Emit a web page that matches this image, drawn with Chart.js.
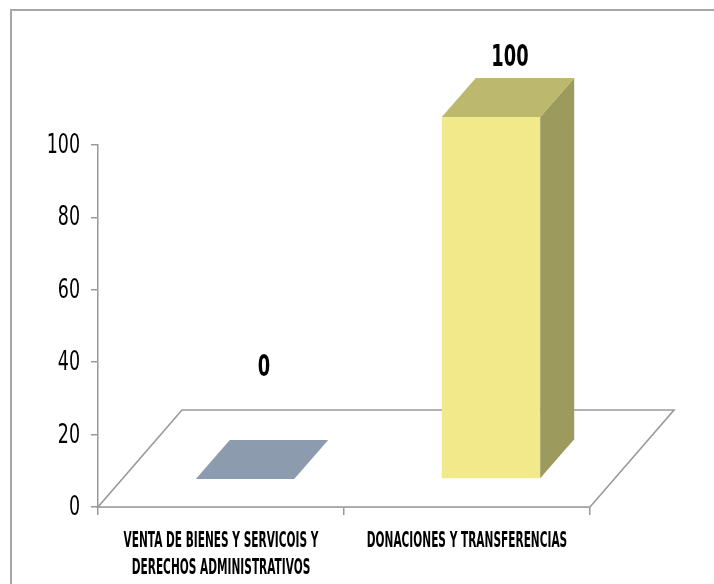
<!DOCTYPE html>
<html>
<head>
<meta charset="utf-8">
<script src="https://cdn.jsdelivr.net/npm/chart.js@4/dist/chart.umd.min.js"></script>
<style>
  html, body { margin: 0; padding: 0; background: #fff; }
  #wrap { width: 714px; height: 584px; position: relative; }
</style>
</head>
<body>
<div id="wrap"><canvas id="c" width="714" height="584"></canvas></div>
<script>
const categories = [
  ["VENTA DE BIENES Y SERVICOIS Y", "DERECHOS ADMINISTRATIVOS"],
  "DONACIONES Y TRANSFERENCIAS"
];
const values = [0, 100];
const yTicks = [0, 20, 40, 60, 80, 100];

const frontColors = ['#8C9BAD', '#F2E98B'];
const topColors   = ['#8C9BAD', '#BCB86E'];
const sideColors  = ['#6F7C8C', '#9C9A5C'];

const FONT = '"DejaVu Sans Condensed", "DejaVu Sans", sans-serif';
const FLOOR_DX = 84, FLOOR_DY = -97;   // floor depth
const BAR_OX = 24, BAR_OY = -28;       // bar front offset into depth
const BAR_DX = 34, BAR_DY = -39;       // bar depth

function squeezeText(ctx, text, x, y, align, font, sx) {
  ctx.save();
  ctx.translate(x, y);
  ctx.scale(sx, 1);
  ctx.font = font;
  ctx.textAlign = align;
  ctx.textBaseline = 'middle';
  ctx.fillStyle = '#000';
  ctx.fillText(text, 0, 0);
  ctx.restore();
}

const frame = {
  id: 'frame',
  beforeDraw(chart) {
    const ctx = chart.ctx;
    ctx.save();
    ctx.fillStyle = '#fff';
    ctx.fillRect(0, 0, chart.width, chart.height);
    ctx.strokeStyle = '#A6A6A6';
    ctx.lineWidth = 2;
    ctx.strokeRect(11, 10, 800, 700);
    ctx.restore();
  }
};

const axisText = {
  id: 'axisText',
  afterDraw(chart) {
    const ctx = chart.ctx, a = chart.chartArea;
    const ys = chart.scales.y, xs = chart.scales.x;
    yTicks.forEach(v => {
      squeezeText(ctx, String(v), a.left - 18, ys.getPixelForValue(v) + 1, 'right',
        '27px ' + FONT, 0.72);
    });
    categories.forEach((c, i) => {
      const lines = Array.isArray(c) ? c : [c];
      const x = xs.getPixelForTick(i);
      lines.forEach((ln, k) => {
        squeezeText(ctx, ln, x, a.bottom + 35 + k * 27, 'center',
          'bold 21px ' + FONT, 0.56);
      });
    });
  }
};

const bars3d = {
  id: 'bars3d',
  beforeDatasetsDraw(chart) {
    const ctx = chart.ctx, a = chart.chartArea;
    ctx.save();
    ctx.beginPath();
    ctx.moveTo(a.left, a.bottom);
    ctx.lineTo(a.right, a.bottom);
    ctx.lineTo(a.right + FLOOR_DX, a.bottom + FLOOR_DY);
    ctx.lineTo(a.left + FLOOR_DX, a.bottom + FLOOR_DY);
    ctx.closePath();
    ctx.fillStyle = '#fff';
    ctx.fill();
    ctx.strokeStyle = '#9A9A9A';
    ctx.lineWidth = 1.6;
    ctx.stroke();
    ctx.restore();
  },
  afterDatasetsDraw(chart) {
    const ctx = chart.ctx, a = chart.chartArea;
    const meta = chart.getDatasetMeta(0);
    ctx.save();
    meta.data.forEach((bar, i) => {
      const w = bar.width;
      const l = bar.x - w / 2 + BAR_OX, r = bar.x + w / 2 + BAR_OX;
      const t = bar.y + BAR_OY, b = bar.base + BAR_OY;
      if (b - t > 0.5) {
        ctx.fillStyle = frontColors[i];
        ctx.fillRect(l, t, r - l, b - t);
        ctx.beginPath();
        ctx.moveTo(r, t); ctx.lineTo(r + BAR_DX, t + BAR_DY);
        ctx.lineTo(r + BAR_DX, b + BAR_DY); ctx.lineTo(r, b);
        ctx.closePath();
        ctx.fillStyle = sideColors[i];
        ctx.fill();
      }
      ctx.beginPath();
      ctx.moveTo(l, t); ctx.lineTo(r, t);
      ctx.lineTo(r + BAR_DX, t + BAR_DY); ctx.lineTo(l + BAR_DX, t + BAR_DY);
      ctx.closePath();
      ctx.fillStyle = topColors[i];
      ctx.fill();
      const lx = (l + r) / 2 + BAR_DX / 2 + 2;
      const ly = Math.min(t + BAR_DY - 20, a.bottom + FLOOR_DY - 42);
      squeezeText(ctx, String(values[i]), lx, ly, 'center', 'bold 31px ' + FONT, 0.64);
    });
    ctx.restore();
  }
};

new Chart(document.getElementById('c'), {
  type: 'bar',
  data: {
    labels: categories,
    datasets: [{
      data: values,
      backgroundColor: 'rgba(0,0,0,0)',
      borderWidth: 0,
      barPercentage: 0.4,
      categoryPercentage: 1.0
    }]
  },
  options: {
    responsive: false,
    animation: false,
    devicePixelRatio: 1,
    layout: { padding: { top: 145, right: 124, bottom: 0, left: 0 } },
    plugins: { legend: { display: false }, tooltip: { enabled: false } },
    scales: {
      x: {
        offset: true,
        grid: { display: true, offset: true, drawOnChartArea: false, drawTicks: true, tickLength: 8, color: '#9A9A9A', lineWidth: 1.5 },
        border: { display: true, color: '#9A9A9A', width: 1.5 },
        ticks: { display: false },
        afterFit(s) { s.height = 77; }
      },
      y: {
        min: 0, max: 100,
        afterBuildTicks(s) { s.ticks = yTicks.map(v => ({ value: v })); },
        grid: { display: true, drawOnChartArea: false, drawTicks: true, tickLength: 7, color: '#9A9A9A', lineWidth: 1.5 },
        border: { display: true, color: '#9A9A9A', width: 1.5 },
        ticks: { display: false },
        afterFit(s) { s.width = 98; }
      }
    }
  },
  plugins: [frame, bars3d, axisText]
});
</script>
</body>
</html>
